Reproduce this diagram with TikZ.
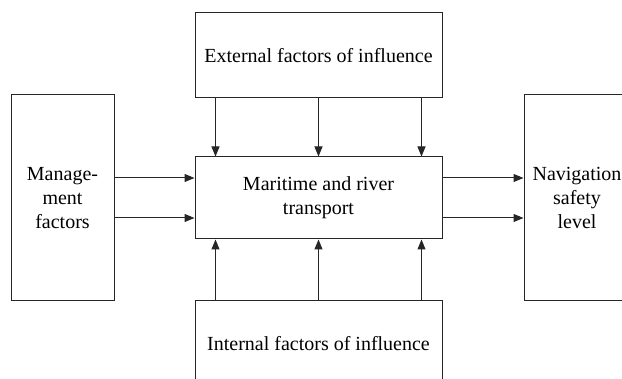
\documentclass[tikz,border=0pt]{standalone}
\usepackage{fontspec}
\setmainfont{Liberation Serif}
\usetikzlibrary{arrows.meta}
\tikzset{
  block/.style={draw=black!85, line width=1pt, align=center, inner sep=0pt,
    font=\fontsize{20}{24}\selectfont},
  wide/.style={block, minimum width=247pt},
  tall/.style={block, minimum width=103pt, minimum height=206pt},
  flow/.style={draw=black!85, line width=1pt, -{Triangle[length=10pt,width=8pt]}}
}
\begin{document}
\begin{tikzpicture}[x=1pt,y=-1pt]
	%frame of the figure
	\clip (0,0) rectangle (622,379);
	%blocks
	\node[wide, minimum height=85pt] (ext) at (318.5,55.5) {External factors of influence};
	\node[wide, minimum height=82pt] (mrt) at (318.5,198) {Maritime and river\\transport};
	\node[wide, minimum height=85pt] (int) at (318.5,343.5) {Internal factors of influence};
	\node[tall] (mgt) at (62.5,198) {Manage-\\ment\\factors};
	\node[tall, minimum width=106pt] (nsl) at (577,198) {Navigation\\safety\\level};
	%influences from above and below
	\foreach \dx in {21,124,227} {
		\draw[flow] ([xshift=\dx pt]ext.south west) -- ([xshift=\dx pt]mrt.north west);
		\draw[flow] ([xshift=\dx pt]int.north west) -- ([xshift=\dx pt]mrt.south west);
	}
	%management in, safety out
	\foreach \dy in {-20,20} {
		\draw[flow] ([yshift=\dy pt]mgt.east) -- ([yshift=\dy pt]mrt.west);
		\draw[flow] ([yshift=\dy pt]mrt.east) -- ([yshift=\dy pt]nsl.west);
	}
\end{tikzpicture}
\end{document}
